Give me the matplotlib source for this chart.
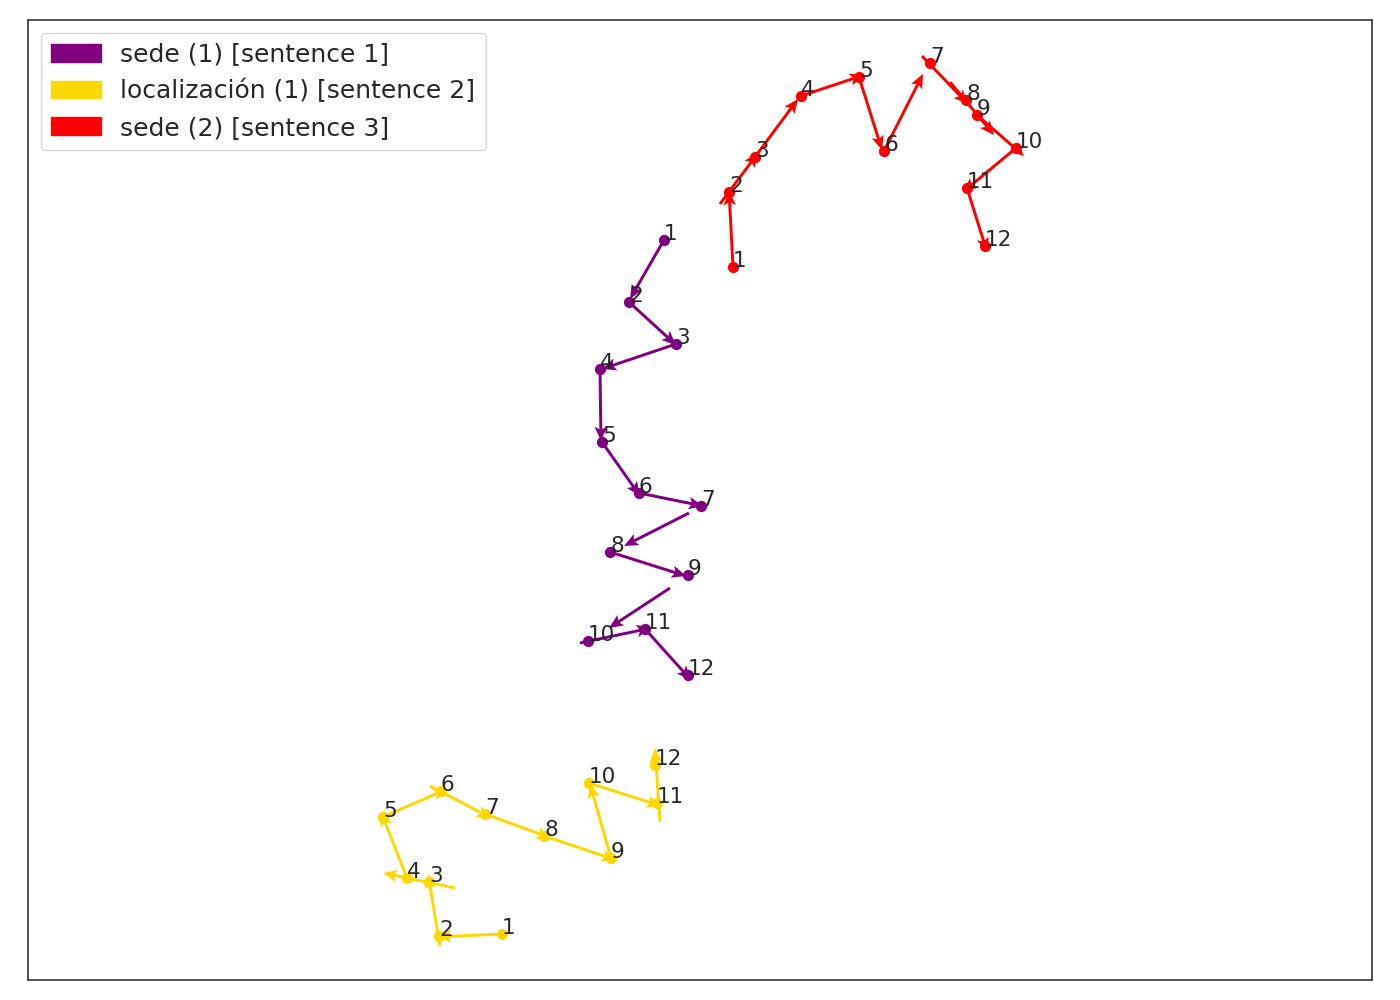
import matplotlib
matplotlib.use("Agg")
import matplotlib.pyplot as plt
from matplotlib.patches import Patch
import numpy as np
import seaborn as sns

sns.set_style("white")

# series names / colours
labels = ["sede (1) [sentence 1]", "localización (1) [sentence 2]", "sede (2) [sentence 3]"]
colors = ["purple", "gold", "red"]

# point positions
sede1_x = [664, 629, 676, 600, 602, 639, 701, 610, 688, 588, 645, 688]
sede1_y = [240, 302, 344, 369, 442, 493, 506, 552, 575, 641, 629, 675]
loc1_x = [502, 439, 429, 407, 383, 441, 485, 544, 611, 589, 657, 655]
loc1_y = [934, 936, 882, 878, 817, 791, 814, 836, 858, 783, 803, 765]
sede2_x = [733, 729, 755, 801, 859, 884, 930, 966, 977, 1016, 967, 985]
sede2_y = [267, 192, 157, 96, 77, 151, 63, 100, 115, 148, 188, 246]

# arrow start / end between consecutive steps
sede1_ax0 = [664, 629, 676, 600, 602, 639, 689, 610, 670, 580, 645]
sede1_ay0 = [240, 302, 344, 369, 442, 493, 513, 552, 588, 643, 629]
sede1_ax1 = [630, 676, 602, 601, 640, 703, 624, 686, 609, 651, 691]
sede1_ay1 = [299, 345, 369, 441, 496, 506, 546, 576, 628, 628, 680]

loc1_ax0 = [502, 440, 455, 407, 383, 430, 485, 544, 611, 589, 660]
loc1_ay0 = [934, 946, 888, 878, 817, 786, 814, 836, 858, 783, 822]
loc1_ax1 = [437, 428, 383, 381, 447, 491, 551, 616, 590, 661, 655]
loc1_ay1 = [937, 874, 873, 812, 789, 818, 838, 860, 784, 806, 748]

sede2_ax0 = [733, 720, 755, 801, 859, 884, 922, 950, 977, 1016, 967]
sede2_ay0 = [267, 204, 157, 96, 77, 151, 56, 82, 115, 148, 188]
sede2_ax1 = [729, 758, 798, 864, 882, 923, 968, 994, 1024, 963, 987]
sede2_ay1 = [191, 153, 99, 75, 150, 74, 104, 135, 156, 192, 252]

series = [
    (sede1_x, sede1_y, sede1_ax0, sede1_ay0, sede1_ax1, sede1_ay1),
    (loc1_x, loc1_y, loc1_ax0, loc1_ay0, loc1_ax1, loc1_ay1),
    (sede2_x, sede2_y, sede2_ax0, sede2_ay0, sede2_ax1, sede2_ay1),
]

fig = plt.figure(figsize=(14, 10), dpi=100)
ax = fig.add_axes([0.02, 0.02, 0.96, 0.96])

for (x, y, x0, y0, x1, y1), c in zip(series, colors):
    x0, y0, x1, y1 = map(np.array, (x0, y0, x1, y1))
    ax.quiver(x0, y0, x1 - x0, y1 - y0, color=c, angles="xy", scale_units="xy", scale=1,
              width=0.0022, headwidth=4.2, headlength=4.8, headaxislength=4.0, zorder=2)
    ax.scatter(x, y, s=50, color=c, zorder=3)
    for i, (px, py) in enumerate(zip(x, y)):
        ax.text(px, py, str(i + 1), fontsize=15.5, color="#262626", zorder=4)

ax.set_xlim(28, 1372)
ax.set_ylim(980, 20)
ax.set_xticks([])
ax.set_yticks([])
for s in ax.spines.values():
    s.set_color("#333333")
    s.set_linewidth(1.2)

handles = [Patch(color=c, label=l) for c, l in zip(colors, labels)]
ax.legend(handles=handles, loc="upper left", fontsize=18)

fig.savefig("out.png", dpi=100)
